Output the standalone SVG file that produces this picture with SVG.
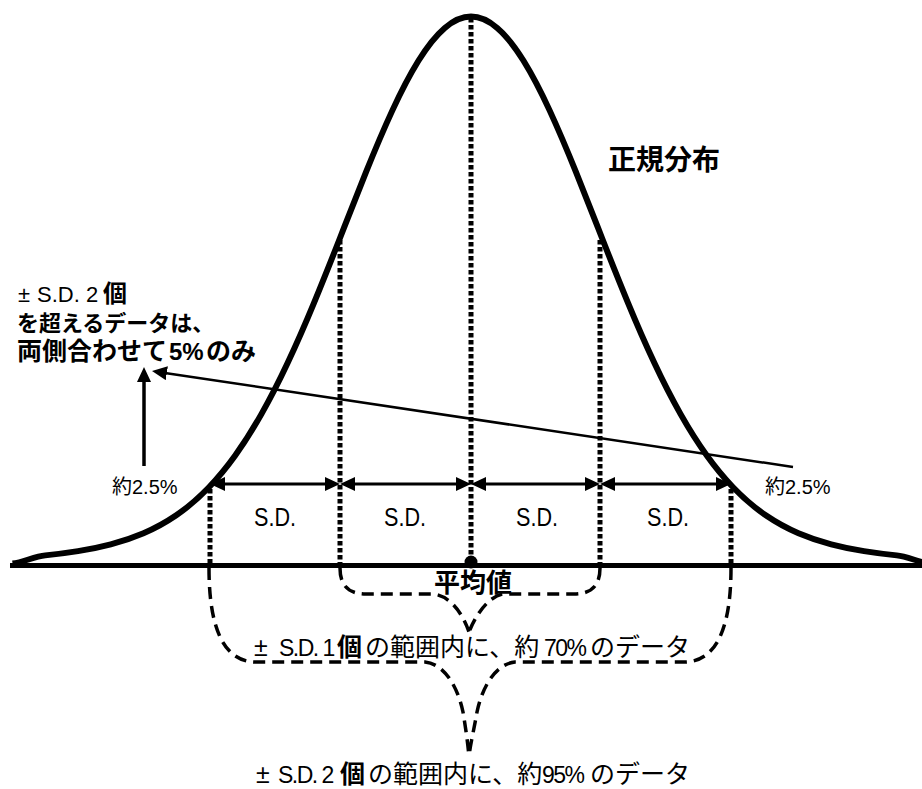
<svg xmlns="http://www.w3.org/2000/svg" width="922" height="789" viewBox="0 0 922 789">
<defs>
<style>
.t{font-family:"Liberation Sans","Noto Sans CJK JP",sans-serif;fill:#000}
.b{font-weight:bold}
.lat{font-size:23px;letter-spacing:-1.5px}
.dot{stroke:#000;stroke-width:5;stroke-dasharray:4.5 2.5;fill:none}
.brace{stroke:#000;stroke-width:3.5;stroke-dasharray:12 7;fill:none}
.arr{stroke:#000;stroke-width:3;fill:none}
</style>
<marker id="ah" markerUnits="userSpaceOnUse" markerWidth="15" markerHeight="14" refX="7" refY="7" orient="auto-start-reverse" viewBox="0 0 15 14"><path d="M0,0 L15,7 L0,14 z" fill="#000"/></marker>
</defs>
<rect width="922" height="789" fill="#fff"/>

<g id="curve">
<path transform="translate(2,3.56) scale(1,0.9937)" fill="none" stroke="#000" stroke-width="6" stroke-linejoin="round" d="M10.5,563.5 C21.4,562.2 32.3,556.4 43.25,555.3 C54.2,554.2 65.1,552.8 76,551.05 C86.9,549.3 97.8,547.1 108.75,544.2 C119.7,541.3 130.6,537.7 141.5,533 C152.4,528.3 163.3,522.4 174.25,514.9 C185.2,507.4 196.1,498.1 207,486.7 C215.7,477.6 224.5,467 233.2,454.8 C241.9,442.6 250.7,428.7 259.4,413.2 C268.1,397.7 276.9,380.5 285.6,361.8 C294.3,343.1 303.1,322.9 311.8,301.7 C320.5,280.5 329.3,258.3 338,235.9 C346.7,213.5 355.5,191 364.2,169.2 C372.9,147.4 381.7,126.5 390.4,107.5 C399.1,88.5 407.9,71.4 416.6,57.3 C425.3,43.2 434.1,32 442.8,24.5 C451.5,17 460.3,13 469,13 C477.7,13 486.5,17 495.2,24.5 C503.9,32 512.7,43.2 521.4,57.3 C530.1,71.4 538.9,88.5 547.6,107.5 C556.3,126.5 565.1,147.4 573.8,169.2 C582.5,191 591.3,213.5 600,235.9 C608.7,258.3 617.5,280.5 626.2,301.7 C634.9,322.9 643.7,343.1 652.4,361.8 C661.1,380.5 669.9,397.7 678.6,413.2 C687.3,428.7 696.1,442.6 704.8,454.8 C713.5,467 722.3,477.6 731,486.7 C741.9,498.1 752.8,507.4 763.75,514.9 C774.7,522.4 785.6,528.3 796.5,533 C807.4,537.7 818.3,541.3 829.25,544.2 C840.2,547.1 851.1,549.3 862,551.05 C872.9,552.8 883.8,554.2 894.75,555.3 C905.7,556.4 916.6,562.2 927.5,563.5"/>
</g>

<g id="axis">
<line x1="10" y1="565.5" x2="922" y2="565.5" stroke="#000" stroke-width="5"/>
</g>

<g id="sd-lines">
<line class="dot" x1="210" y1="489" x2="210" y2="568"/>
<line class="dot" x1="340" y1="240" x2="340" y2="568"/>
<line class="dot" x1="471" y1="18" x2="471" y2="560"/>
<line class="dot" x1="600" y1="240" x2="600" y2="568"/>
<line class="dot" x1="731" y1="489" x2="731" y2="568"/>
</g>

<g id="mean-point">
<circle cx="471" cy="562" r="6.5" fill="#000"/>
</g>

<g id="connectors">
<line class="arr" x1="218" y1="484" x2="332" y2="484" marker-start="url(#ah)" marker-end="url(#ah)"/>
<line class="arr" x1="348" y1="484" x2="463" y2="484" marker-start="url(#ah)" marker-end="url(#ah)"/>
<line class="arr" x1="479" y1="484" x2="592" y2="484" marker-start="url(#ah)" marker-end="url(#ah)"/>
<line class="arr" x1="608" y1="484" x2="723" y2="484" marker-start="url(#ah)" marker-end="url(#ah)"/>
<line x1="144" y1="466" x2="144" y2="375" stroke="#000" stroke-width="3.5" marker-end="url(#ah)"/>
<line x1="793" y1="467" x2="159.9" y2="372.2" stroke="#000" stroke-width="2.5" marker-end="url(#ah)"/>
<path class="brace" d="M340,568 C340,585 348,594 366,594 L433,594 C450,596 462,612 469,632 M600,568 C600,585 592,594 574,594 L503,594 C490,596 477,612 469,632"/>
<path class="brace" d="M209,568 C209,610 216,662 256,662 L425,662 C445,664 458,688 463,712 C466,730 468,745 469,757 M731,568 C731,610 724,662 684,662 L515,662 C495,664 482,688 477,712 C474,730 470,745 469,757"/>
</g>

<g id="label-normal">
<text class="t b" x="608" y="170" font-size="28">正規分布</text>
</g>

<g id="label-beyond">
<text class="t" y="302" font-size="22"><tspan x="18">±</tspan><tspan x="37">S.D. 2</tspan><tspan x="103" class="b" font-size="24">個</tspan></text>
<text class="t b" x="17" y="331" font-size="22">を超えるデータは、</text>
<text class="t b" y="360" font-size="25"><tspan x="17">両側合わせて</tspan><tspan x="169" font-size="24">5%</tspan><tspan x="206">のみ</tspan></text>
</g>

<g id="label-left-pct">
<text class="t" x="112" y="494" font-size="20">約2.5%</text>
</g>
<g id="label-right-pct">
<text class="t" x="765" y="494" font-size="20">約2.5%</text>
</g>

<g id="sd-labels">
<text class="t" x="254" y="526" font-size="25" textLength="42" lengthAdjust="spacingAndGlyphs">S.D.</text>
<text class="t" x="384" y="526" font-size="25" textLength="42" lengthAdjust="spacingAndGlyphs">S.D.</text>
<text class="t" x="516" y="526" font-size="25" textLength="42" lengthAdjust="spacingAndGlyphs">S.D.</text>
<text class="t" x="647" y="526" font-size="25" textLength="42" lengthAdjust="spacingAndGlyphs">S.D.</text>
</g>

<g id="label-mean">
<text class="t b" x="434" y="592" font-size="26">平均値</text>
</g>

<g id="label-1sd">
<text class="t" y="656" font-size="25"><tspan x="254">±</tspan><tspan x="279" class="lat">S.D. 1</tspan><tspan x="337" class="b">個</tspan><tspan x="365">の範囲内に、約</tspan><tspan x="544" class="lat">70%</tspan><tspan x="590">のデータ</tspan></text>
</g>

<g id="label-2sd">
<text class="t" y="783" font-size="25"><tspan x="256">±</tspan><tspan x="278" class="lat">S.D. 2</tspan><tspan x="340" class="b">個</tspan><tspan x="368">の範囲内に、約</tspan><tspan x="542" class="lat">95%</tspan><tspan x="590">のデータ</tspan></text>
</g>
</svg>
